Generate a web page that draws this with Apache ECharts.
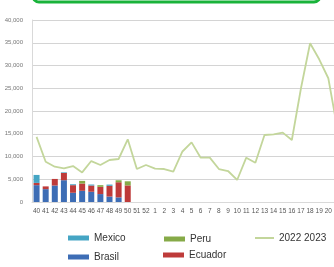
<!DOCTYPE html>
<html>
<head>
<meta charset="utf-8" />
<title>Casos por semana</title>
<script src="https://cdn.jsdelivr.net/npm/echarts@6/dist/echarts.min.js"></script>
<style>
	html, body { margin: 0; padding: 0; background: #fff; overflow: hidden; }
	#chart { width: 345px; height: 267px; }
</style>
</head>
<body>
<div id="chart"></div>
<script>
	// semanas epidemiologicas (la 21 queda cortada en el borde derecho)
	var weeks = ['40', '41', '42', '43', '44', '45', '46', '47', '48', '49', '50', '51', '52',
		'1', '2', '3', '4', '5', '6', '7', '8', '9', '10', '11', '12', '13', '14', '15', '16', '17', '18', '19', '20', '21'];

	var season2223 = [14300, 8860, 7760, 7400, 7900, 6500, 9000, 8130, 9230, 9450, 13780, 7250, 8130,
		7330, 7250, 6670, 11100, 13100, 9740, 9740, 7250, 6810, 4840, 9740, 8640, 14730, 14880, 15240, 13630, 25000, 34880, 31360, 27200, 16000];

	var brasil = [3700, 2830, 3620, 4790, 2030, 2460, 2250, 1740, 1200, 1015, 0];
	var ecuador = [500, 600, 1450, 1590, 1670, 1600, 1370, 1590, 2350, 3330, 3650];
	var peru = [0, 0, 0, 0, 0, 580, 0, 370, 0, 430, 900];
	var mexico = [1750, 0, 0, 140, 200, 0, 220, 0, 280, 0, 0];

	var myChart = echarts.init(document.getElementById('chart'), null, { renderer: 'canvas' });

	var legendBase = {
		padding: 0,
		itemWidth: 21,
		itemHeight: 5,
		icon: 'rect',
		textStyle: { fontSize: 10, color: '#333', fontFamily: 'Liberation Sans' }
	};

	function leg(name, left, top, extra) {
		return Object.assign({}, legendBase, { data: [name], left: left, top: top }, extra || {});
	}

	myChart.setOption({
		animation: false,
		graphic: [{
			// borde inferior del recuadro de titulo
			type: 'rect',
			shape: { x: 33, y: -20, width: 287, height: 22, r: 6 },
			style: { fill: '#fff', stroke: '#19b33a', lineWidth: 3 }
		}],
		legend: [
			leg('Mexico', 68, 233),
			leg('Peru', 164, 234),
			leg('2022 2023', 255, 233, { itemWidth: 19, itemHeight: 2 }),
			leg('Brasil', 68, 252),
			leg('Ecuador', 163, 250)
		],
		grid: { left: 32, top: 20, width: 310, height: 182 },
		xAxis: {
			type: 'category',
			data: weeks,
			axisLine: { show: true, lineStyle: { color: '#d9d9d9' } },
			axisTick: { show: false },
			axisLabel: { fontSize: 6.5, color: '#555', margin: 6, interval: 0, fontFamily: 'Liberation Sans' }
		},
		yAxis: {
			type: 'value',
			min: 0,
			max: 40000,
			interval: 5000,
			axisLine: { show: true, lineStyle: { color: '#d9d9d9' } },
			axisTick: { show: false },
			axisLabel: {
				fontSize: 6, color: '#777', margin: 9, fontFamily: 'Liberation Sans',
				formatter: function (v) { return v.toLocaleString('en-US'); }
			},
			splitLine: { lineStyle: { color: '#d4d4d4', width: 1 } }
		},
		series: [
			{ name: 'Brasil', type: 'bar', stack: 'p', data: brasil, barWidth: 6, itemStyle: { color: '#3d6db5' } },
			{ name: 'Ecuador', type: 'bar', stack: 'p', data: ecuador, barWidth: 6, itemStyle: { color: '#be3b3a' } },
			{ name: 'Peru', type: 'bar', stack: 'p', data: peru, barWidth: 6, itemStyle: { color: '#86aa48' } },
			{ name: 'Mexico', type: 'bar', stack: 'p', data: mexico, barWidth: 6, itemStyle: { color: '#45a5c4' } },
			{
				name: '2022 2023', type: 'line', data: season2223, symbol: 'none',
				lineStyle: { color: '#c3d69b', width: 1.8 }, itemStyle: { color: '#c3d69b' }
			}
		]
	});

	window.onresize = function () {
		myChart.resize();
	};
</script>
</body>
</html>
